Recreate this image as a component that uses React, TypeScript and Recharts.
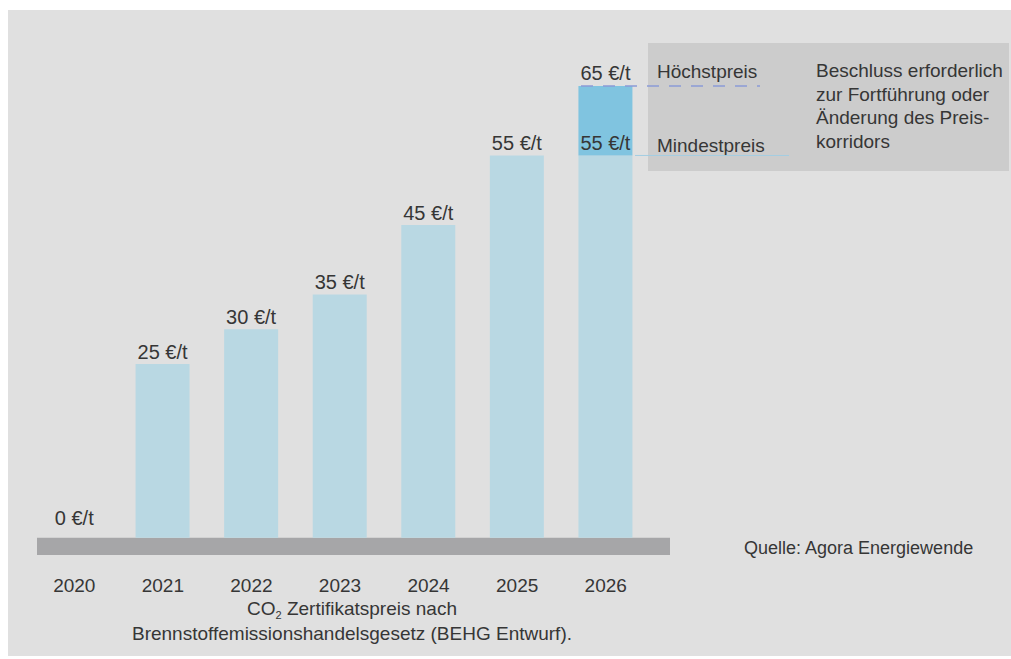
import React from "react";
import {
    BarChart,
    Bar,
    XAxis,
    YAxis,
    LabelList,
    ReferenceLine,
    ReferenceArea,
    ReferenceDot,
} from "recharts";

const years = ["2020", "2021", "2022", "2023", "2024", "2025", "2026"];
const basePrice = [0, 25, 30, 35, 45, 55, 55];
const corridor = [0, 0, 0, 0, 0, 0, 10];
const maxLabel = [null, null, null, null, null, null, 65];

const data = years.map((y, i) => ({
    year: y,
    base: basePrice[i],
    extra: corridor[i],
    top: maxLabel[i],
}));

const FONT = "'Liberation Sans', Arial, sans-serif";
const TEXT = "#363636";

const noteLines = [
    "Beschluss erforderlich",
    "zur Fortführung oder",
    "Änderung des Preis-",
    "korridors",
];

const TopLabel = (props: any) => {
    const { x, y, width, value } = props;
    if (value === null || value === undefined) return null;
    return (
        <text
            x={x + width / 2}
            y={y - 6}
            textAnchor="middle"
            fontSize={20}
            fontFamily={FONT}
            fill={TEXT}
        >
            {value} €/t
        </text>
    );
};

export default function App() {
    return (
        <div style={{ position: "absolute", left: 0, top: 0, width: 1011, height: 659, background: "#fff" }}>
            <div
                style={{
                    position: "absolute",
                    left: 8,
                    top: 10,
                    width: 1003,
                    height: 646,
                    background: "#e0e0e0",
                }}
            />
            <div style={{ position: "absolute", left: 0, top: 0 }}>
                <BarChart
                    width={1011}
                    height={659}
                    data={data}
                    margin={{ top: 86, right: 361, bottom: 74, left: 30 }}
                    barSize={54}
                >
                    {/* annotation box */}
                    <rect x={648} y={43} width={361} height={128} fill="#cccccc" />

                    <XAxis
                        dataKey="year"
                        tickLine={false}
                        axisLine={false}
                        tickMargin={18}
                        height={30}
                        tick={{ fontSize: 19, fontFamily: FONT, fill: TEXT }}
                    />
                    <XAxis
                        xAxisId="px"
                        type="number"
                        dataKey="px"
                        domain={[30, 650]}
                        allowDataOverflow
                        hide
                    />
                    <YAxis hide domain={[-2.5, 65]} allowDataOverflow />

                    <ReferenceArea
                        xAxisId="px"
                        x1={37}
                        x2={670}
                        y1={-2.5}
                        y2={0}
                        fill="#a6a6a8"
                        fillOpacity={1}
                        stroke="none"
                        ifOverflow="visible"
                    />

                    <Bar dataKey="base" stackId="a" fill="#b9d8e3" isAnimationActive={false}>
                        <LabelList
                            dataKey="base"
                            position="top"
                            offset={5}
                            formatter={(v: any) => `${v} €/t`}
                            style={{ fontSize: 20, fontFamily: FONT, fill: TEXT }}
                        />
                    </Bar>
                    <Bar dataKey="extra" stackId="a" fill="#80c4e0" isAnimationActive={false}>
                        <LabelList dataKey="top" content={<TopLabel />} />
                    </Bar>

                    <ReferenceDot
                        x="2020"
                        y={basePrice[0]}
                        r={0}
                        fill="none"
                        stroke="none"
                        label={{
                            value: `${basePrice[0]} €/t`,
                            position: "top",
                            offset: 13,
                            fontSize: 20,
                            fontFamily: FONT,
                            fill: TEXT,
                        }}
                    />

                    <ReferenceLine
                        xAxisId="px"
                        segment={[{ x: 581, y: 65 }, { x: 760, y: 65 }]}
                        stroke="#8a9ad6"
                        strokeWidth={1.5}
                        strokeDasharray="12 10"
                        ifOverflow="visible"
                    />
                    <ReferenceLine
                        xAxisId="px"
                        segment={[{ x: 635, y: 55 }, { x: 789, y: 55 }]}
                        stroke="#a3cde2"
                        strokeWidth={1}
                        ifOverflow="visible"
                    />

                    <text x={657} y={78} fontSize={19} fontFamily={FONT} fill={TEXT}>
                        Höchstpreis
                    </text>
                    <text x={657} y={152} fontSize={19} fontFamily={FONT} fill={TEXT}>
                        Mindestpreis
                    </text>
                    <text fontSize={19} fontFamily={FONT} fill={TEXT}>
                        {noteLines.map((l, i) => (
                            <tspan key={i} x={816} y={77 + i * 23.5}>
                                {l}
                            </tspan>
                        ))}
                    </text>
                    <text x={744} y={554} fontSize={18} fontFamily={FONT} fill={TEXT}>
                        Quelle: Agora Energiewende
                    </text>

                    <text x={352} y={615} textAnchor="middle" fontSize={19} fontFamily={FONT} fill={TEXT}>
                        CO<tspan fontSize={11} dy={4}>2</tspan>
                        <tspan dy={-4}> Zertifikatspreis nach</tspan>
                    </text>
                    <text x={352} y={640} textAnchor="middle" fontSize={19} fontFamily={FONT} fill={TEXT}>
                        Brennstoffemissionshandelsgesetz (BEHG Entwurf).
                    </text>
                </BarChart>
            </div>
        </div>
    );
}
